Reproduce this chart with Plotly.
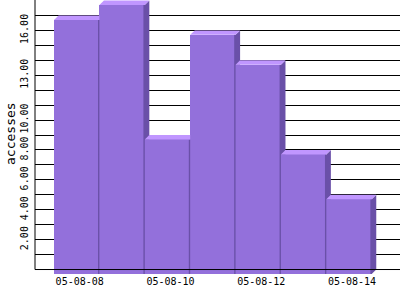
import plotly.graph_objects as go

# ---- data ----
dates = ["05-08-08", "05-08-09", "05-08-10", "05-08-11", "05-08-12", "05-08-13", "05-08-14"]
accesses = [17, 18, 9, 16, 14, 8, 5]
x_tick_dates = ["05-08-08", "05-08-10", "05-08-12", "05-08-14"]
y_tick_values = [2, 4, 6, 8, 10, 13, 16]
y_tick_labels = ["2.00", "4.00", "6.00", "8.00", "10.00", "13.00", "16.00"]

# ---- style ----
FRONT = "#9370DB"
TOP = "#C096FF"
SIDE = "#6A50A8"
DX = 0.1    # 3D depth in x units
DY = 0.3    # 3D depth in y units
EDGE = 0.03 # dark edge strip width
FONT = "DejaVu Sans Mono"

n = len(dates)
idx = list(range(n))

fig = go.Figure()

# front faces
fig.add_trace(go.Bar(x=idx, y=accesses, base=-DY, width=1,
                     marker=dict(color=FRONT, line=dict(width=0)),
                     hoverinfo="skip"))

# side faces (clipped where the next bar hides them)
sx, sy = [], []
for i, v in enumerate(accesses):
    xr = i + 0.5
    nxt = accesses[i + 1] if i < n - 1 else None
    if nxt is None:
        pts = [(xr - EDGE, -DY), (xr, -DY), (xr + DX, 0), (xr + DX, v), (xr, v - DY), (xr - EDGE, v - DY)]
    elif nxt < v:
        yb = nxt - DY
        pts = [(xr - EDGE, -DY), (xr, -DY), (xr, yb), (xr + DX, yb), (xr + DX, v), (xr, v - DY), (xr - EDGE, v - DY)]
    else:
        pts = [(xr - EDGE, -DY), (xr, -DY), (xr, v - DY), (xr - EDGE, v - DY)]
    for px, py in pts:
        sx.append(px); sy.append(py)
    sx.append(pts[0][0]); sy.append(pts[0][1])
    sx.append(None); sy.append(None)
fig.add_trace(go.Scatter(x=sx, y=sy, mode="lines", fill="toself", fillcolor=SIDE,
                         line=dict(width=0, color=SIDE), hoverinfo="skip"))

# top faces
tx, ty = [], []
for i, v in enumerate(accesses):
    xl, xr = i - 0.5, i + 0.5
    nxt = accesses[i + 1] if i < n - 1 else None
    if nxt is not None and nxt > v:
        pts = [(xl, v - DY), (xl + DX, v), (xr, v), (xr, v - DY)]
    else:
        pts = [(xl, v - DY), (xl + DX, v), (xr + DX, v), (xr, v - DY)]
    for px, py in pts:
        tx.append(px); ty.append(py)
    tx.append(pts[0][0]); ty.append(pts[0][1])
    tx.append(None); ty.append(None)
fig.add_trace(go.Scatter(x=tx, y=ty, mode="lines", fill="toself", fillcolor=TOP,
                         line=dict(width=0, color=TOP), hoverinfo="skip"))

Y_TOP = 18.033
fig.update_layout(
    width=400, height=300,
    margin=dict(l=35, r=0, t=0, b=26),
    plot_bgcolor="white", paper_bgcolor="white",
    showlegend=False, bargap=0,
    shapes=[
        dict(type="line", xref="paper", x0=0, x1=1, yref="y", y0=0, y1=0,
             line=dict(color="black", width=1), layer="above"),
        dict(type="line", xref="paper", x0=0, x1=0, yref="y", y0=0, y1=Y_TOP,
             line=dict(color="black", width=1), layer="above"),
    ],
    annotations=[
        dict(text="accesses", textangle=-90, xref="paper", yref="paper",
             x=(10 - 35) / 365, y=(274 - 134) / 274, xanchor="center", yanchor="middle",
             showarrow=False, font=dict(family=FONT, size=13, color="black")),
    ],
)
fig.update_xaxes(
    range=[-0.9186, 7.123],
    tickmode="array",
    tickvals=[dates.index(d) for d in x_tick_dates],
    ticktext=x_tick_dates,
    showgrid=False, zeroline=False, showline=False, ticks="",
    ticklabelshift=3,
    tickfont=dict(family=FONT, size=10, color="black"),
)
fig.update_yaxes(
    range=[-0.30, Y_TOP],
    tickmode="array", tickvals=y_tick_values, ticktext=y_tick_labels,
    tickangle=-90,
    showgrid=True, gridcolor="black", gridwidth=1,
    zeroline=False, showline=False, ticks="",
    ticklabelstandoff=4,
    tickfont=dict(family=FONT, size=10, color="black"),
    minor=dict(tickmode="linear", tick0=0, dtick=1, showgrid=True,
               gridcolor="black", gridwidth=1),
)

fig.write_html("out.html")
